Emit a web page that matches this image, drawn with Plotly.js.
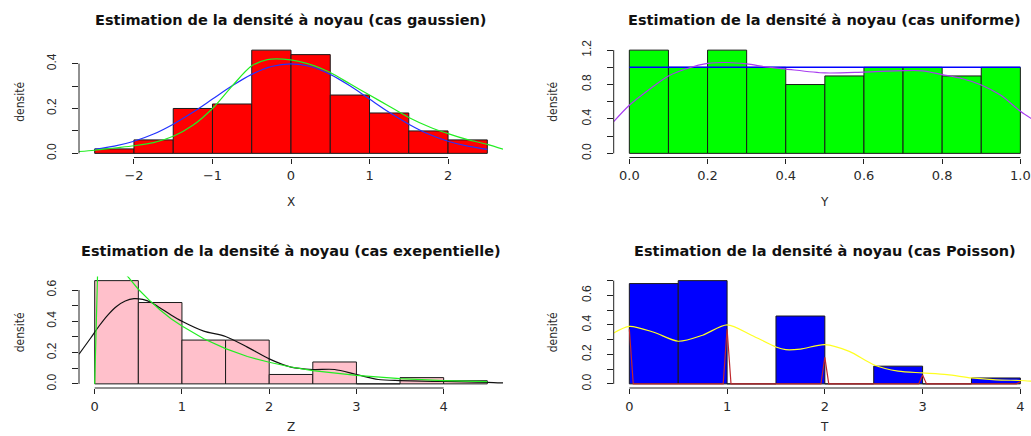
<!DOCTYPE html>
<html>
<head>
<meta charset="utf-8">
<script src="https://cdn.plot.ly/plotly-3.0.1.min.js"></script>
<style>
  html, body { margin: 0; padding: 0; background: #fff; }
  #chart { width: 1031px; height: 436px; }
</style>
</head>
<body>
<div id="chart"></div>
<script>
// ---------- Data ----------
// Panel 1 : cas gaussien
const gBreaks = [-2.5, -2, -1.5, -1, -0.5, 0, 0.5, 1, 1.5, 2, 2.5];
const gDens   = [0.02, 0.06, 0.20, 0.22, 0.46, 0.44, 0.26, 0.18, 0.10, 0.06];
const gNormX  = [-2.5, -2.25, -2, -1.75, -1.5, -1.25, -1, -0.75, -0.5, -0.25, 0, 0.25, 0.5, 0.75, 1, 1.25, 1.5, 1.75, 2, 2.25, 2.5];
const gNormY  = [0.018, 0.032, 0.054, 0.086, 0.13, 0.183, 0.242, 0.301, 0.352, 0.387, 0.399, 0.387, 0.352, 0.301, 0.242, 0.183, 0.13, 0.086, 0.054, 0.032, 0.018];
const gKdeX   = [-2.75, -2.5, -2.25, -2, -1.75, -1.5, -1.25, -1, -0.75, -0.5, -0.3, -0.1, 0.1, 0.3, 0.5, 0.75, 1, 1.25, 1.5, 1.75, 2, 2.25, 2.5, 2.75];
const gKdeY   = [0.007, 0.014, 0.024, 0.034, 0.048, 0.076, 0.125, 0.20, 0.30, 0.39, 0.418, 0.42, 0.41, 0.39, 0.36, 0.31, 0.26, 0.21, 0.16, 0.12, 0.088, 0.061, 0.04, 0.013];
const gXTicks = [-2, -1, 0, 1, 2];
const gXLabels = ["\u22122", "\u22121", "0", "1", "2"];
const gYTicks = [0, 0.1, 0.2, 0.3, 0.4];
const gYLabels = ["0.0", "", "0.2", "", "0.4"];

// Panel 2 : cas uniforme
const uBreaks = [0, 0.1, 0.2, 0.3, 0.4, 0.5, 0.6, 0.7, 0.8, 0.9, 1.0];
const uDens   = [1.2, 1.0, 1.2, 1.0, 0.8, 0.9, 1.0, 1.0, 0.9, 1.0];
const uTheoX  = [0, 1];
const uTheoY  = [1, 1];
const uKdeX   = [-0.04, 0, 0.05, 0.1, 0.15, 0.2, 0.25, 0.3, 0.35, 0.4, 0.5, 0.6, 0.7, 0.75, 0.8, 0.85, 0.9, 0.95, 1.0, 1.04];
const uKdeY   = [0.37, 0.56, 0.74, 0.90, 0.99, 1.045, 1.056, 1.04, 1.005, 0.98, 0.935, 0.945, 0.962, 0.96, 0.915, 0.87, 0.795, 0.675, 0.49, 0.37];
const uXTicks = [0, 0.2, 0.4, 0.6, 0.8, 1.0];
const uXLabels = ["0.0", "0.2", "0.4", "0.6", "0.8", "1.0"];
const uYTicks = [0, 0.2, 0.4, 0.6, 0.8, 1.0, 1.2];
const uYLabels = ["0.0", "", "0.4", "", "0.8", "", "1.2"];

// Panel 3 : cas exponentiel
const eBreaks = [0, 0.5, 1, 1.5, 2, 2.5, 3, 3.5, 4, 4.5];
const eDens   = [0.66, 0.52, 0.28, 0.28, 0.06, 0.14, 0, 0.04, 0.02];
const eKdeX   = [-0.18, -0.05, 0.05, 0.15, 0.25, 0.35, 0.45, 0.55, 0.65, 0.75, 0.875, 1, 1.25, 1.5, 1.75, 2, 2.25, 2.5, 2.75, 3, 3.25, 3.5, 3.75, 4, 4.25, 4.5, 4.68];
const eKdeY   = [0.19, 0.29, 0.37, 0.44, 0.495, 0.53, 0.545, 0.54, 0.52, 0.485, 0.44, 0.40, 0.337, 0.303, 0.235, 0.16, 0.107, 0.092, 0.092, 0.06, 0.028, 0.021, 0.017, 0.015, 0.013, 0.01, 0.006];
const eExpX   = [0, 0.045, 0.1, 0.2, 0.3, 0.38, 0.5, 0.625, 0.75, 0.875, 1, 1.25, 1.5, 1.75, 2, 2.25, 2.5, 3, 3.5, 4, 4.5];
const eExpY   = [0, 0.96, 0.905, 0.82, 0.74, 0.685, 0.605, 0.535, 0.472, 0.417, 0.37, 0.288, 0.225, 0.175, 0.138, 0.108, 0.085, 0.054, 0.034, 0.021, 0.014];
const eXTicks = [0, 1, 2, 3, 4];
const eXLabels = ["0", "1", "2", "3", "4"];
const eYTicks = [0, 0.1, 0.2, 0.3, 0.4, 0.5, 0.6];
const eYLabels = ["0.0", "", "0.2", "", "0.4", "", "0.6"];

// Panel 4 : cas Poisson
const pBreaks = [0, 0.5, 1, 1.5, 2, 2.5, 3, 3.5, 4];
const pDens   = [0.68, 0.70, 0, 0.46, 0, 0.12, 0, 0.04];
const pKdeX   = [-0.16, 0, 0.25, 0.5, 0.75, 1, 1.25, 1.5, 1.6, 1.75, 2, 2.25, 2.5, 2.75, 3, 3.25, 3.5, 3.75, 4, 4.11];
const pKdeY   = [0.345, 0.39, 0.35, 0.289, 0.33, 0.40, 0.33, 0.25, 0.232, 0.236, 0.266, 0.22, 0.13, 0.086, 0.0745, 0.063, 0.04, 0.027, 0.023, 0.019];
const pSpikeX = [0, 0.04, 0.96, 1, 1.04, 1.96, 2, 2.04, 2.96, 3, 3.04, 3.96, 4];
const pSpikeY = [0.37, 0, 0, 0.37, 0, 0, 0.18, 0, 0, 0.06, 0, 0, 0.015];
const pXTicks = [0, 1, 2, 3, 4];
const pXLabels = ["0", "1", "2", "3", "4"];
const pYTicks = [0, 0.1, 0.2, 0.3, 0.4, 0.5, 0.6, 0.7];
const pYLabels = ["0.0", "", "0.2", "", "0.4", "", "0.6", ""];

const titles = [
  "Estimation de la densité à noyau (cas gaussien)",
  "Estimation de la densité à noyau (cas uniforme)",
  "Estimation de la densité à noyau (cas exepentielle)",
  "Estimation de la densité à noyau (cas Poisson)"
];
const xNames = ["X", "Y", "Z", "T"];
const yName = "densité";

// ---------- Layout geometry (pixels of a 1031 x 436 page) ----------
const W = 1031, H = 436;
const px = v => v / W;
const py = v => 1 - v / H;
const xDomL = [px(79), px(503)];
const xDomR = [px(613.7), 1];
const yDomT = [py(157.5), py(46)];
const yDomB = [py(388), py(276.5)];

const bars = (br, d, color, ax) => ({
  type: 'bar', x: br.slice(0, -1), y: d,
  width: br.slice(1).map((b, i) => b - br[i]), offset: 0,
  marker: { color: color, line: { color: '#1a1a1a', width: 1 } },
  xaxis: 'x' + ax, yaxis: 'y' + ax, hoverinfo: 'skip'
});
const line = (x, y, color, ax, shape, w) => ({
  type: 'scatter', mode: 'lines', x: x, y: y,
  line: { color: color, width: w || 1.2, shape: shape || 'spline', smoothing: 0.8 },
  xaxis: 'x' + ax, yaxis: 'y' + ax, hoverinfo: 'skip'
});

const data = [
  bars(gBreaks, gDens, '#FF0000', ''),
  line(gNormX, gNormY, '#2233FF', ''),
  line(gKdeX, gKdeY, '#22EE22', ''),

  bars(uBreaks, uDens, '#00FF00', '2'),
  line(uTheoX, uTheoY, '#0000FF', '2', 'linear', 1.5),
  line(uKdeX, uKdeY, '#A83CF0', '2'),

  bars(eBreaks, eDens, '#FFC0CB', '3'),
  line(eKdeX, eKdeY, '#111111', '3'),
  line(eExpX, eExpY, '#22EE22', '3', 'linear'),

  bars(pBreaks, pDens, '#0000FF', '4'),
  line(pKdeX, pKdeY, '#FFFF22', '4'),
  line(pSpikeX, pSpikeY, '#C0282D', '4', 'linear', 1.2)
];

const tickFontX = { family: 'DejaVu Sans, Verdana, sans-serif', size: 13, color: '#2a2a2a' };
const tickFontY = { family: 'Liberation Sans, Arial, sans-serif', size: 12, color: '#2a2a2a' };

function xAxis(dom, range, anchor, tv, tt) {
  return {
    domain: dom, range: range, anchor: anchor,
    showgrid: false, zeroline: false, showline: false,
    ticks: 'outside', ticklen: 5, tickwidth: 1, tickcolor: '#222',
    tickmode: 'array', tickvals: tv, ticktext: tt,
    tickfont: tickFontX, ticklabelstandoff: 1, fixedrange: true
  };
}
function yAxis(dom, range, anchor, tv, tt) {
  return {
    domain: dom, range: range, anchor: anchor,
    showgrid: false, zeroline: false, showline: false,
    ticks: 'outside', ticklen: 6, tickwidth: 1, tickcolor: '#222',
    tickmode: 'array', tickvals: tv, ticktext: tt, tickangle: -90,
    tickfont: tickFontY, ticklabelstandoff: 11, fixedrange: true
  };
}

// R-style axis lines: only from the first to the last tick
function axisLines(ax, xt, yt) {
  const s = { type: 'line', line: { color: '#222', width: 1 }, layer: 'above' };
  return [
    Object.assign({}, s, { xref: 'x' + ax, yref: 'y' + ax + ' domain', x0: xt[0], x1: xt[xt.length - 1], y0: 0, y1: 0 }),
    Object.assign({}, s, { xref: 'x' + ax + ' domain', yref: 'y' + ax, x0: 0, x1: 0, y0: yt[0], y1: yt[yt.length - 1] })
  ];
}

const titleFont = { family: 'DejaVu Sans, Verdana, sans-serif', size: 14.5, color: '#111', weight: 'bold' };
const labFont = { family: 'DejaVu Sans, Verdana, sans-serif', size: 12, color: '#2a2a2a' };
const yLabFont = { family: 'Liberation Sans Narrow, DejaVu Sans Condensed, Arial Narrow, sans-serif', size: 12, color: '#2a2a2a' };

const centers = [0, 0.5, 2.25, 2];   // centre of each R plot region, in data units
const axSuffix = ['', '2', '3', '4'];
const titleY = [py(20), py(20), py(251), py(251)];
const xLabY = [py(202), py(202), py(427), py(427)];
const yLabX = [px(20), px(553), px(20), px(553)];

const annotations = [];
for (let i = 0; i < 4; i++) {
  const a = axSuffix[i];
  annotations.push({ text: '<b>' + titles[i] + '</b>', xref: 'x' + a, yref: 'paper', x: centers[i], y: titleY[i],
    xanchor: 'center', yanchor: 'middle', showarrow: false, font: titleFont });
  annotations.push({ text: xNames[i], xref: 'x' + a, yref: 'paper', x: centers[i], y: xLabY[i],
    xanchor: 'center', yanchor: 'middle', showarrow: false, font: labFont });
  annotations.push({ text: yName, xref: 'paper', yref: 'y' + a + ' domain', x: yLabX[i], y: 0.5,
    xanchor: 'center', yanchor: 'middle', textangle: -90, showarrow: false, font: yLabFont });
}

const layout = {
  width: W, height: H,
  margin: { l: 0, r: 0, t: 0, b: 0, pad: 0 },
  paper_bgcolor: '#fff', plot_bgcolor: '#fff',
  showlegend: false, barmode: 'overlay',
  xaxis:  xAxis(xDomL, [-2.7, 2.7], 'y', gXTicks, gXLabels),
  yaxis:  yAxis(yDomT, [-0.0184, 0.4784], 'x', gYTicks, gYLabels),
  xaxis2: xAxis(xDomR, [-0.04, 1.0272], 'y2', uXTicks, uXLabels),
  yaxis2: yAxis(yDomT, [-0.048, 1.248], 'x2', uYTicks, uYLabels),
  xaxis3: xAxis(xDomL, [-0.18, 4.68], 'y3', eXTicks, eXLabels),
  yaxis3: yAxis(yDomB, [-0.0264, 0.6864], 'x3', eYTicks, eYLabels),
  xaxis4: xAxis(xDomR, [-0.16, 4.109], 'y4', pXTicks, pXLabels),
  yaxis4: yAxis(yDomB, [-0.028, 0.728], 'x4', pYTicks, pYLabels),
  shapes: [].concat(
    axisLines('', gXTicks, gYTicks),
    axisLines('2', uXTicks, uYTicks),
    axisLines('3', eXTicks, eYTicks),
    axisLines('4', pXTicks, pYTicks)
  ),
  annotations: annotations
};

Plotly.newPlot('chart', data, layout, { displayModeBar: false, staticPlot: true });
</script>
</body>
</html>
